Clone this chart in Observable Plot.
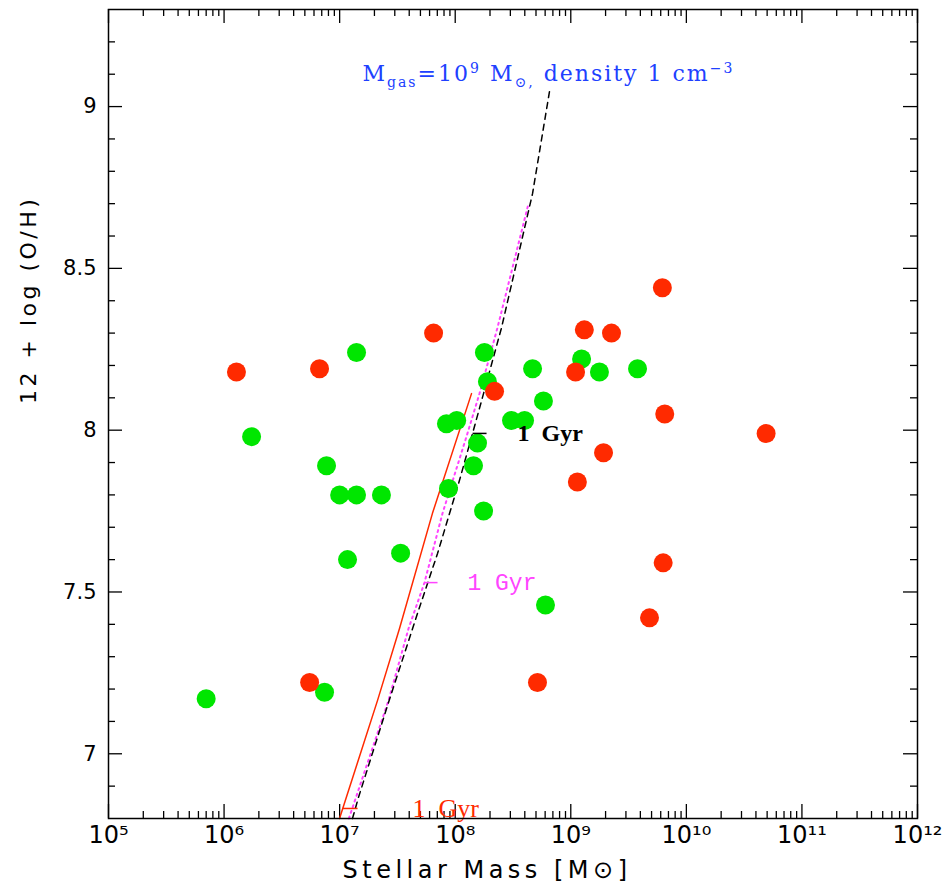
<!DOCTYPE html>
<html><head><meta charset="utf-8">
<script src="https://cdn.jsdelivr.net/npm/d3@7"></script>
<script src="https://cdn.jsdelivr.net/npm/@observablehq/plot@0.6"></script>
<style>
body{margin:0;background:#fff;}
#chart svg{display:block;background:#fff;}
</style>
</head><body><div id="chart"></div>
<script>
// ---- data ----
const redMass = [1.28e6, 6.7e6, 6.5e7, 5.5e6, 2.19e8, 1.14e9, 1.1e9, 1.31e9, 2.25e9, 1.92e9, 6.2e9, 6.5e9, 6.3e9, 4.8e9, 4.9e10, 5.15e8];
const redOH   = [8.18, 8.19, 8.30, 7.22, 8.12, 7.84, 8.18, 8.31, 8.30, 7.93, 8.44, 8.05, 7.59, 7.42, 7.99, 7.22];
const greenMass = [7.0e5, 1.73e6, 7.7e6, 1.4e7, 1.0e7, 1.4e7, 2.3e7, 1.17e7, 3.37e7, 7.4e6, 8.4e7, 1.03e8, 8.75e7, 1.56e8, 1.44e8, 1.76e8, 1.79e8, 1.9e8, 3.07e8, 3.98e8, 4.67e8, 5.8e8, 6.04e8, 1.24e9, 1.77e9, 3.78e9];
const greenOH   = [7.17, 7.98, 7.89, 8.24, 7.80, 7.80, 7.80, 7.60, 7.62, 7.19, 8.02, 8.03, 7.82, 7.96, 7.89, 7.75, 8.24, 8.15, 8.03, 8.03, 8.19, 8.09, 7.46, 8.22, 8.18, 8.19];

// model tracks (log10 stellar mass, 12+log O/H)
const blackLogM = [7.111, 7.163, 7.414, 7.674, 7.847, 8.037, 8.150, 8.245, 8.401, 8.669, 8.816];
const blackOH   = [6.800, 6.865, 7.149, 7.434, 7.619, 7.845, 7.990, 8.113, 8.317, 8.731, 9.047];
const magentaLogM = [7.080, 7.094, 7.423, 7.596, 7.734, 7.890, 8.106, 8.210, 8.366, 8.634];
const magentaOH   = [6.800, 6.815, 7.165, 7.387, 7.529, 7.743, 7.990, 8.113, 8.317, 8.700];
const redLogM = [6.999, 7.328, 7.518, 7.803, 8.141];
const redLineOH = [6.800, 7.165, 7.387, 7.743, 8.113];

// 1 Gyr marks: tick (logM start, end) at OH, label position logM
const gyrBlack = {tick:[8.150, 8.271], oh:7.99, labelLogM:8.539, text:"1  Gyr"};
const gyrMagenta = {tick:[7.734, 7.847], oh:7.529, labelLogM:8.106, text:"1 Gyr"};
const gyrRed = {tick:[7.025, 7.155], oh:6.831, labelLogM:7.630, text:"1  Gyr"};

const decades = [1e5, 1e6, 1e7, 1e8, 1e9, 1e10, 1e11, 1e12];
const xTickLabels = ["10\u2075","10\u2076","10\u2077","10\u2078","10\u2079","10\u00B9\u2070","10\u00B9\u00B9","10\u00B9\u00B2"];
const minorMult = [2,3,4,5,6,7,8,9];
const yMajor = [7, 7.5, 8, 8.5, 9];
const yTickLabels = ["7", "7.5", "8", "8.5", "9"];
const yMinor = [6.9, 7.1, 7.2, 7.3, 7.4, 7.6, 7.7, 7.8, 7.9, 8.1, 8.2, 8.3, 8.4, 8.6, 8.7, 8.8, 8.9, 9.1, 9.2];
const xTitle = "Stellar Mass [M\u2299]";
const yTitle = "12 + log (O/H)";
const gasLabelPos = {logM: 7.198, oh: 9.102};
const gasLabelPlaceholder = "Mgas=10^9 Msun, density 1 cm^-3";

// ---- tables ----
const red = redMass.map((m, i) => ({m, oh: redOH[i]}));
const green = greenMass.map((m, i) => ({m, oh: greenOH[i]}));
const blackLine = blackLogM.map((l, i) => ({m: 10 ** l, oh: blackOH[i]}));
const magLine = magentaLogM.map((l, i) => ({m: 10 ** l, oh: magentaOH[i]}));
const redLine = redLogM.map((l, i) => ({m: 10 ** l, oh: redLineOH[i]}));
const xMinor = decades.slice(0, -1).flatMap(d => minorMult.map(k => d * k));
const xLab = decades.map((d, i) => ({d, t: xTickLabels[i]}));
const yLab = yMajor.map((d, i) => ({d, t: yTickLabels[i]}));

const W = 942, H = 892, mL = 108, mR = 25, mT = 9, mB = 74;
const pw = W - mL - mR, ph = H - mT - mB;
const MAJ = 14, MIN = 7;
const axisFont = "DejaVu Sans";

function gyrMarks(g, color, font, weight, size) {
  return [
    Plot.link([g], {x1: d => 10 ** d.tick[0], x2: d => 10 ** d.tick[1], y1: d => d.oh, y2: d => d.oh, stroke: color, strokeWidth: 1.5}),
    Plot.text([g], {x: d => 10 ** d.labelLogM, y: d => d.oh, text: d => d.text, textAnchor: "start", fill: color, fontFamily: font, fontWeight: weight, fontSize: size})
  ];
}

const chart = Plot.plot({
  width: W, height: H,
  marginLeft: mL, marginRight: mR, marginTop: mT, marginBottom: mB,
  x: {type: "log", domain: [1e5, 1e12], axis: null},
  y: {domain: [6.8, 9.3], axis: null},
  style: {background: "#fff", overflow: "visible"},
  marks: [
    // ticks (inward)
    Plot.tickX(decades, {x: d => d, insetTop: ph - MAJ, stroke: "black", strokeWidth: 1.3}),
    Plot.tickX(decades, {x: d => d, insetBottom: ph - MAJ, stroke: "black", strokeWidth: 1.3}),
    Plot.tickX(xMinor, {x: d => d, insetTop: ph - MIN, stroke: "black", strokeWidth: 1.3}),
    Plot.tickX(xMinor, {x: d => d, insetBottom: ph - MIN, stroke: "black", strokeWidth: 1.3}),
    Plot.tickY(yMajor, {y: d => d, insetRight: pw - MAJ, stroke: "black", strokeWidth: 1.3}),
    Plot.tickY(yMajor, {y: d => d, insetLeft: pw - MAJ, stroke: "black", strokeWidth: 1.3}),
    Plot.tickY(yMinor, {y: d => d, insetRight: pw - MIN, stroke: "black", strokeWidth: 1.3}),
    Plot.tickY(yMinor, {y: d => d, insetLeft: pw - MIN, stroke: "black", strokeWidth: 1.3}),
    // tick labels
    Plot.text(xLab, {x: "d", text: "t", frameAnchor: "bottom", lineAnchor: "top", dy: 7, fontSize: 24, fontFamily: axisFont, fill: "black"}),
    Plot.text(yLab, {y: "d", text: "t", frameAnchor: "left", textAnchor: "end", dx: -12, fontSize: 21, fontFamily: axisFont, fill: "black"}),
    // axis titles
    Plot.text([xTitle], {frameAnchor: "bottom", lineAnchor: "top", dy: 42, dx: -26, fontSize: 24, fontFamily: axisFont, fill: "black"}),
    Plot.text([yTitle], {frameAnchor: "left", rotate: -90, dx: -80, dy: -10, fontSize: 22, fontFamily: axisFont, fill: "black"}),
    // model tracks
    Plot.line(redLine, {x: "m", y: "oh", stroke: "#ff2a00", strokeWidth: 1.5}),
    Plot.line(magLine, {x: "m", y: "oh", stroke: "#ff44ff", strokeWidth: 2, strokeDasharray: "2,4"}),
    Plot.line(blackLine, {x: "m", y: "oh", stroke: "black", strokeWidth: 1.5, strokeDasharray: "6,5"}),
    // galaxies
    Plot.dot(green, {x: "m", y: "oh", r: 9.5, fill: "#00e600", stroke: "none"}),
    Plot.dot(red, {x: "m", y: "oh", r: 9.5, fill: "#ff2a00", stroke: "none"}),
    // 1 Gyr marks
    ...gyrMarks(gyrBlack, "black", "Liberation Serif", "bold", 24),
    ...gyrMarks(gyrMagenta, "#ff44ff", "Liberation Mono", "normal", 23),
    ...gyrMarks(gyrRed, "#ff2a00", "Liberation Serif", "normal", 26),
    // gas label (rewritten with sub/superscripts below)
    Plot.text([gasLabelPos], {x: d => 10 ** d.logM, y: d => d.oh, text: () => gasLabelPlaceholder, textAnchor: "start", fill: "#2040ff", fontFamily: "DejaVu Serif", fontSize: 22}),
    Plot.frame({stroke: "black", strokeWidth: 1.5})
  ]
});
document.getElementById("chart").append(chart);

const texts = d3.select(chart).selectAll("text");
texts.filter(function() { return this.textContent === xTitle; }).style("letter-spacing", "4.5px");
texts.filter(function() { return this.textContent === yTitle; }).style("letter-spacing", "3.5px");

// rich gas label with sub/superscripts
const gt = texts.filter(function() { return this.textContent === gasLabelPlaceholder; });
gt.style("letter-spacing", "2px");
gt.text(null);
const parts = [
  ["M", 0, null], ["gas", 6, 14], ["=10", -6, null], ["9", -8, 14], [" M", 8, null], ["\u2299,", 6, 14], [" density 1 cm", -6, null], ["\u22123", -8, 14]
];
parts.forEach(([s, dy, fs]) => {
  const ts = gt.append("tspan").attr("dy", dy).text(s);
  if (fs) ts.attr("font-size", fs);
});
</script></body></html>
